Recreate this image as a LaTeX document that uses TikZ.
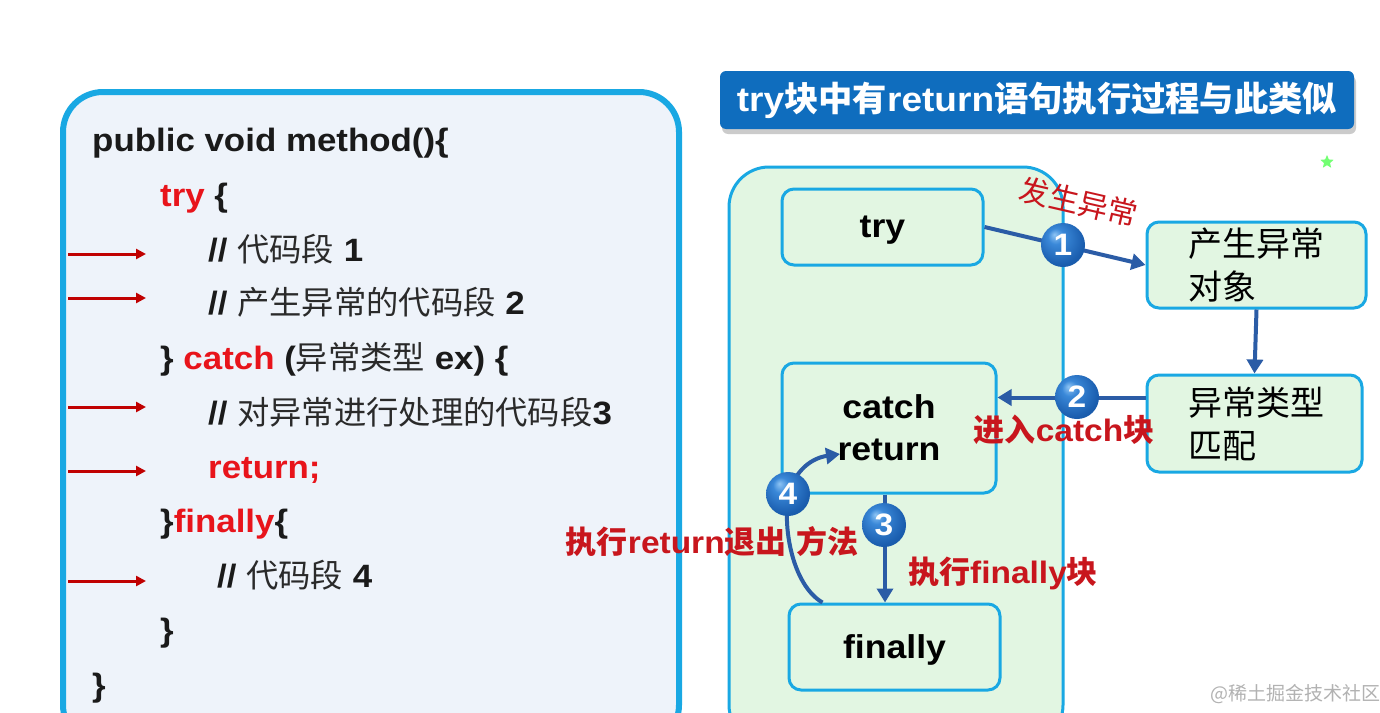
\documentclass[tikz,border=0pt]{standalone}
\usepackage{fontspec}
\setmainfont{Liberation Sans}[FakeStretch=1.08]
\newfontfamily\cjk{Noto Sans CJK SC}
\usetikzlibrary{arrows.meta,shapes.geometric,shadows}
\definecolor{codeblack}{HTML}{1A1A1A}
\definecolor{zhgray}{HTML}{2A2A2A}
\definecolor{kw}{HTML}{E8141B}
\definecolor{arrowred}{HTML}{C00000}
\definecolor{cyanb}{HTML}{19A8E3}
\definecolor{boxfill}{HTML}{E2F6E2}
\definecolor{leftfill}{HTML}{EEF3FA}
\definecolor{titleblue}{HTML}{0F6DBE}
\definecolor{flowblue}{HTML}{2B5CA6}
\definecolor{labred}{HTML}{C8161D}
\definecolor{ballhi}{HTML}{8EC4F4}
\definecolor{ballmid}{HTML}{3A88D8}
\definecolor{balldark}{HTML}{1A5DAE}
\definecolor{ballrim}{HTML}{114A8E}
\pgfdeclareradialshading{myball}{\pgfpoint{-10bp}{12bp}}{color(0bp)=(ballhi); color(9bp)=(ballmid); color(28bp)=(balldark); color(50bp)=(ballrim)}
\newcommand\zh[1]{{\cjk\mdseries\color{zhgray}#1}}
\newcommand\zhb[1]{{\cjk\bfseries #1}}
\begin{document}
\begin{tikzpicture}[x=1pt,y=-1pt,
  code/.style={anchor=base west,inner sep=0,text=codeblack,font=\fontsize{32.3}{38}\selectfont\bfseries},
  redarrow/.style={arrowred,line width=3,-{Triangle[length=10pt,width=10pt]}},
  flowbox/.style={draw=cyanb,line width=3,fill=boxfill,rounded corners=12,inner sep=0},
  boxtext/.style={font=\fontsize{33}{42}\selectfont\bfseries,text=black,text depth=0pt},
  zhtext/.style={font=\cjk\fontsize{34}{43}\selectfont,text=black},
  flow/.style={flowblue,line width=4,-{Triangle[length=14pt,width=16pt]}},
  numball/.style={circle,minimum size=44,inner sep=0,shading=myball,text=white,font=\fontsize{31}{31}\selectfont\bfseries},
  lab/.style={text=labred,font=\fontsize{31}{33}\selectfont\bfseries,inner sep=0},
  titlebox/.style={fill=titleblue,rounded corners=6,minimum width=634,minimum height=58,text=white,
     font=\fontsize{34.3}{38}\selectfont\bfseries,drop shadow={shadow xshift=2pt,shadow yshift=-5pt,fill=black!40}}
]
\useasboundingbox (0,0) rectangle (1380,712);
\clip (0,0) rectangle (1380,712);
\fill[white] (0,0) rectangle (1380,712);

% left code panel
\draw[cyanb,line width=6,fill=leftfill,rounded corners=40] (63,92) rectangle (679,745);
\node[code] (l1) at (92,151) {public void method()\{};
\node[code] (l2) at (160,206) {\textcolor{kw}{try} \{};
\node[code] (l3) at (208,261) {// \zh{代码段} 1};
\node[code] (l4) at (208,314) {// \zh{产生异常的代码段} 2};
\node[code] (l5) at (160,369) {\} \textcolor{kw}{catch} (\zh{异常类型} ex) \{};
\node[code] (l6) at (208,424) {// \zh{对异常进行处理的代码段}3};
\node[code] (l7) at (208,478) {\textcolor{kw}{return;}};
\node[code] (l8) at (160,532) {\}\textcolor{kw}{finally}\{};
\node[code] (l9) at (217,587) {// \zh{代码段} 4};
\node[code] (l10) at (160,641) {\}};
\node[code] (l11) at (92,696) {\}};

\foreach \yy/\nm in {254/a,298/b,407/c,471/d,581/e}{
  \coordinate (\nm s) at (68,\yy);
  \coordinate (\nm e) at (146,\yy);
  \draw[redarrow] (\nm s) -- (\nm e);
}

% right side
\node[titlebox] (title) at (1037,100) {try\zhb{块中有}return\zhb{语句执行过程与此类似}};
\node[star,star points=5,star point ratio=2.2,fill=green!55,minimum size=14,inner sep=0] (star) at (1327,162) {};

\draw[cyanb,line width=3,fill=boxfill,rounded corners=40] (729,167) rectangle (1063,745);

\node[flowbox,boxtext,minimum width=201,minimum height=76] (try) at (882.5,227) {try};
\node[flowbox,zhtext,minimum width=219,minimum height=86,align=left,text width=137,inner xsep=41] (exobj) at (1256.5,265) {产生异常\\对象};
\node[flowbox,zhtext,minimum width=215,minimum height=97,align=left,text width=133,inner xsep=41] (match) at (1254.5,423.5) {异常类型\\匹配};
\node[flowbox,boxtext,minimum width=214,minimum height=130,align=center] (catchbox) at (889,428) {catch\\return};
\node[flowbox,boxtext,minimum width=211,minimum height=86] (finally) at (894.5,647) {finally};

% arrow 1
\draw[flow] (try.east) -- (exobj.west);
\node[lab,font=\cjk\fontsize{30}{32}\selectfont,rotate=-13] (lab1) at (1079,202) {发生异常};
\node[numball] (n1) at (1063,245) {1};

% exobj -> match
\draw[flow] (exobj.south) -- (match.north);

% arrow 2
\coordinate (m2) at ([yshift=26pt]match.west);
\draw[flow] (m2) -- (m2 -| catchbox.east);
\node[numball] (n2) at (1077,397) {2};
\node[lab] (lab2) at (1064,430) {\zhb{进入}catch\zhb{块}};

% arrow 3
\coordinate (c3) at ([xshift=-4pt]catchbox.south);
\draw[flow] (c3) -- (c3 |- finally.north);
\node[numball] (n3) at (884,525) {3};
\node[lab] (lab3) at (1003,573) {\zhb{执行}finally\zhb{块}};

% arrow 4
\coordinate (f4) at ([xshift=-72pt]finally.north);
\coordinate (r4) at (840,454);
\draw[flow] (f4) .. controls (792,585) and (782,525) .. (789,494) .. controls (795,470) and (812,458) .. (r4);
\node[numball] (n4) at (788,494) {4};
\node[lab] (lab4) at (712,542) {\zhb{执行}return\zhb{退出} \zhb{方法}};

% watermark
\node[text=black!30,font=\cjk\fontsize{19}{20}\selectfont] (wm) at (1295,694) {@稀土掘金技术社区};
\end{tikzpicture}
\end{document}
